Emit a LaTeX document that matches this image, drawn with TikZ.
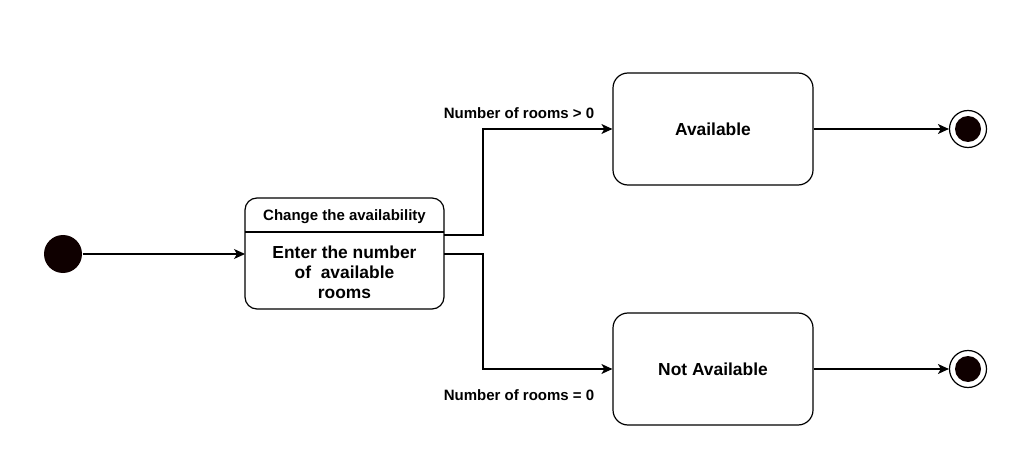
\documentclass[tikz,border=0pt]{standalone}
\usepackage{fontspec}
\setmainfont{Liberation Sans}
\usetikzlibrary{arrows.meta}
\definecolor{dotfill}{RGB}{15,0,0}
\begin{document}
\begin{tikzpicture}[x=1pt,y=-1pt,
  line width=1.2pt,
  statebox/.style={draw,rounded corners=15pt,minimum width=200pt,minimum height=112pt,inner sep=0pt,font=\fontsize{17.4}{20}\selectfont\bfseries},
  edge/.style={draw,-{Stealth[length=11pt,width=10pt,inset=3pt]}},
  lbl/.style={font=\fontsize{15}{17}\selectfont\bfseries,inner sep=0pt}]
\useasboundingbox[fill=white] (0,0) rectangle (1021,476);
% initial
\node[circle,fill=dotfill,minimum size=38pt,inner sep=0pt] (init) at (63,254) {};
% composite state
\draw[rounded corners=12pt] (245,198) rectangle (444,309);
\coordinate (compW) at (245,254);
\coordinate (compE1) at (444,235);
\coordinate (compE2) at (444,254);
\draw (245,232) -- (444,232);
\node[font=\fontsize{15}{17}\selectfont\bfseries,inner sep=0pt] (hdr) at (344.5,216.5) {Change the availability};
\node[font=\fontsize{17.4}{20}\selectfont\bfseries,align=center,inner sep=0pt] (body) at (344.5,272) {Enter the number\\of\ \ available\\rooms};
% states
\node[statebox] (avail) at (713,129) {Available};
\node[statebox] (navail) at (713,369) {Not Available};
% finals
\node[circle,draw,fill=white,minimum size=37pt,inner sep=0pt] (fin1) at (968,129) {};
\fill[dotfill] (fin1.center) circle (13pt);
\node[circle,draw,fill=white,minimum size=37pt,inner sep=0pt] (fin2) at (968,369) {};
\fill[dotfill] (fin2.center) circle (13pt);
% edges
\draw[edge] (init) -- (compW);
\draw[edge] (compE1) -- (483,235) |- (avail.west);
\draw[edge] (compE2) -- (483,254) |- (navail.west);
\draw[edge] (avail.east) -- (fin1.west);
\draw[edge] (navail.east) -- (fin2.west);
% labels
\node[lbl] (l1) at (519,113) {Number of rooms > 0};
\node[lbl] (l2) at (519,395) {Number of rooms = 0};
\end{tikzpicture}
\end{document}
